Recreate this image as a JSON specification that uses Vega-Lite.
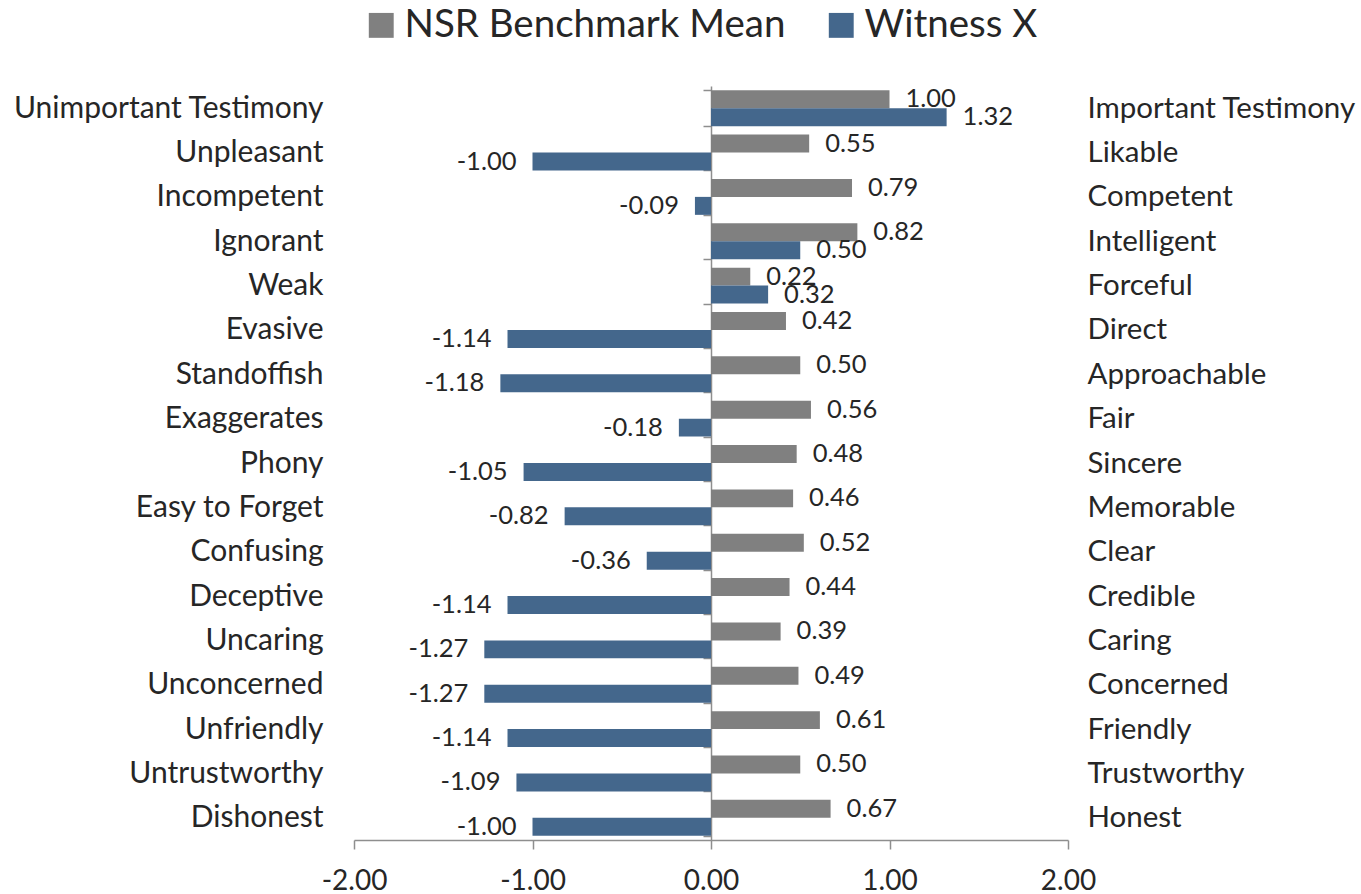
{
  "$schema": "https://vega.github.io/schema/vega-lite/v6.json",
  "width": 714,
  "height": 754,
  "autosize": {"type": "none"},
  "padding": {"left": 354, "top": 86, "right": 293, "bottom": 54},
  "background": "white",
  "config": {
    "view": {"stroke": null},
    "font": "Lato",
    "text": {"font": "Lato"},
    "locale": {
      "number": {"decimal": ".", "thousands": ",", "grouping": [3], "currency": ["$", ""], "minus": "-"}
    }
  },
  "data": {
    "values": [
      {"order": 1, "neg": "Unimportant Testimony", "pos": "Important Testimony", "series": "NSR Benchmark Mean", "value": 1.00},
      {"order": 1, "neg": "Unimportant Testimony", "pos": "Important Testimony", "series": "Witness X", "value": 1.32},
      {"order": 2, "neg": "Unpleasant", "pos": "Likable", "series": "NSR Benchmark Mean", "value": 0.55},
      {"order": 2, "neg": "Unpleasant", "pos": "Likable", "series": "Witness X", "value": -1.00},
      {"order": 3, "neg": "Incompetent", "pos": "Competent", "series": "NSR Benchmark Mean", "value": 0.79},
      {"order": 3, "neg": "Incompetent", "pos": "Competent", "series": "Witness X", "value": -0.09},
      {"order": 4, "neg": "Ignorant", "pos": "Intelligent", "series": "NSR Benchmark Mean", "value": 0.82},
      {"order": 4, "neg": "Ignorant", "pos": "Intelligent", "series": "Witness X", "value": 0.50},
      {"order": 5, "neg": "Weak", "pos": "Forceful", "series": "NSR Benchmark Mean", "value": 0.22},
      {"order": 5, "neg": "Weak", "pos": "Forceful", "series": "Witness X", "value": 0.32},
      {"order": 6, "neg": "Evasive", "pos": "Direct", "series": "NSR Benchmark Mean", "value": 0.42},
      {"order": 6, "neg": "Evasive", "pos": "Direct", "series": "Witness X", "value": -1.14},
      {"order": 7, "neg": "Standoffish", "pos": "Approachable", "series": "NSR Benchmark Mean", "value": 0.50},
      {"order": 7, "neg": "Standoffish", "pos": "Approachable", "series": "Witness X", "value": -1.18},
      {"order": 8, "neg": "Exaggerates", "pos": "Fair", "series": "NSR Benchmark Mean", "value": 0.56},
      {"order": 8, "neg": "Exaggerates", "pos": "Fair", "series": "Witness X", "value": -0.18},
      {"order": 9, "neg": "Phony", "pos": "Sincere", "series": "NSR Benchmark Mean", "value": 0.48},
      {"order": 9, "neg": "Phony", "pos": "Sincere", "series": "Witness X", "value": -1.05},
      {"order": 10, "neg": "Easy to Forget", "pos": "Memorable", "series": "NSR Benchmark Mean", "value": 0.46},
      {"order": 10, "neg": "Easy to Forget", "pos": "Memorable", "series": "Witness X", "value": -0.82},
      {"order": 11, "neg": "Confusing", "pos": "Clear", "series": "NSR Benchmark Mean", "value": 0.52},
      {"order": 11, "neg": "Confusing", "pos": "Clear", "series": "Witness X", "value": -0.36},
      {"order": 12, "neg": "Deceptive", "pos": "Credible", "series": "NSR Benchmark Mean", "value": 0.44},
      {"order": 12, "neg": "Deceptive", "pos": "Credible", "series": "Witness X", "value": -1.14},
      {"order": 13, "neg": "Uncaring", "pos": "Caring", "series": "NSR Benchmark Mean", "value": 0.39},
      {"order": 13, "neg": "Uncaring", "pos": "Caring", "series": "Witness X", "value": -1.27},
      {"order": 14, "neg": "Unconcerned", "pos": "Concerned", "series": "NSR Benchmark Mean", "value": 0.49},
      {"order": 14, "neg": "Unconcerned", "pos": "Concerned", "series": "Witness X", "value": -1.27},
      {"order": 15, "neg": "Unfriendly", "pos": "Friendly", "series": "NSR Benchmark Mean", "value": 0.61},
      {"order": 15, "neg": "Unfriendly", "pos": "Friendly", "series": "Witness X", "value": -1.14},
      {"order": 16, "neg": "Untrustworthy", "pos": "Trustworthy", "series": "NSR Benchmark Mean", "value": 0.50},
      {"order": 16, "neg": "Untrustworthy", "pos": "Trustworthy", "series": "Witness X", "value": -1.09},
      {"order": 17, "neg": "Dishonest", "pos": "Honest", "series": "NSR Benchmark Mean", "value": 0.67},
      {"order": 17, "neg": "Dishonest", "pos": "Honest", "series": "Witness X", "value": -1.00}
    ]
  },
  "layer": [
    {
      "encoding": {
        "y": {
          "field": "neg",
          "type": "nominal",
          "sort": {"field": "order", "op": "min", "order": "ascending"},
          "scale": {"paddingInner": 0.19, "paddingOuter": 0.095},
          "axis": {
            "orient": "left",
            "title": null,
            "offset": -357,
            "domain": true,
            "domainColor": "#8e8e8e",
            "domainWidth": 1.5,
            "ticks": true,
            "tickBand": "extent",
            "tickColor": "#8e8e8e",
            "tickWidth": 1.5,
            "tickSize": 8,
            "labelPadding": 380,
            "labelLimit": 0,
            "labelFont": "Lato",
            "labelFontSize": 30,
            "labelColor": "#262626",
            "grid": false
          }
        },
        "yOffset": {
          "field": "series",
          "type": "nominal",
          "scale": {"domain": ["NSR Benchmark Mean", "Witness X"], "paddingInner": 0, "paddingOuter": 0}
        },
        "x": {
          "field": "value",
          "type": "quantitative",
          "scale": {"domain": [-2, 2], "nice": false, "zero": false},
          "axis": {
            "title": null,
            "values": [-2, -1, 0, 1, 2],
            "format": ".2f",
            "grid": false,
            "labelFlush": false,
            "labelOverlap": false,
            "domainColor": "#8e8e8e",
            "domainWidth": 1.5,
            "tickColor": "#8e8e8e",
            "tickWidth": 1.5,
            "tickSize": 9,
            "labelPadding": 18,
            "labelFont": "Lato",
            "labelFontSize": 28,
            "labelColor": "#262626"
          }
        }
      },
      "layer": [
        {
          "mark": {"type": "bar"},
          "encoding": {
            "color": {
              "field": "series",
              "type": "nominal",
              "scale": {"domain": ["NSR Benchmark Mean", "Witness X"], "range": ["#808080", "#44678c"]},
              "legend": {
                "title": null,
                "orient": "none",
                "direction": "horizontal",
                "legendX": 8,
                "legendY": -80,
                "symbolType": "square",
                "symbolSize": 620,
                "symbolStrokeWidth": 0,
                "labelFont": "Lato",
                "labelFontSize": 38.5,
                "labelColor": "#262626",
                "labelOffset": 4,
                "columnPadding": 36,
                "labelLimit": 0
              }
            }
          }
        },
        {
          "transform": [{"filter": "datum.value >= 0"}],
          "mark": {"type": "text", "align": "left", "baseline": "middle", "dx": 16, "font": "Lato", "fontSize": 25.5, "color": "#262626"},
          "encoding": {"text": {"field": "value", "type": "quantitative", "format": ".2f"}}
        },
        {
          "transform": [{"filter": "datum.value < 0"}],
          "mark": {"type": "text", "align": "right", "baseline": "middle", "dx": -16, "font": "Lato", "fontSize": 25.5, "color": "#262626"},
          "encoding": {"text": {"field": "value", "type": "quantitative", "format": ".2f"}}
        }
      ]
    },
    {
      "mark": {"type": "point", "opacity": 0},
      "encoding": {
        "y": {
          "field": "pos",
          "type": "nominal",
          "sort": {"field": "order", "op": "min", "order": "ascending"},
          "scale": {"paddingInner": 0.19, "paddingOuter": 0.095},
          "axis": {
            "orient": "right",
            "title": null,
            "domain": false,
            "ticks": false,
            "labelPadding": 19,
            "labelLimit": 0,
            "labelFont": "Lato",
            "labelFontSize": 29.5,
            "labelColor": "#262626",
            "grid": false
          }
        },
        "x": {"datum": 0, "type": "quantitative"}
      }
    }
  ],
  "resolve": {"scale": {"y": "independent"}, "axis": {"y": "independent"}}
}
